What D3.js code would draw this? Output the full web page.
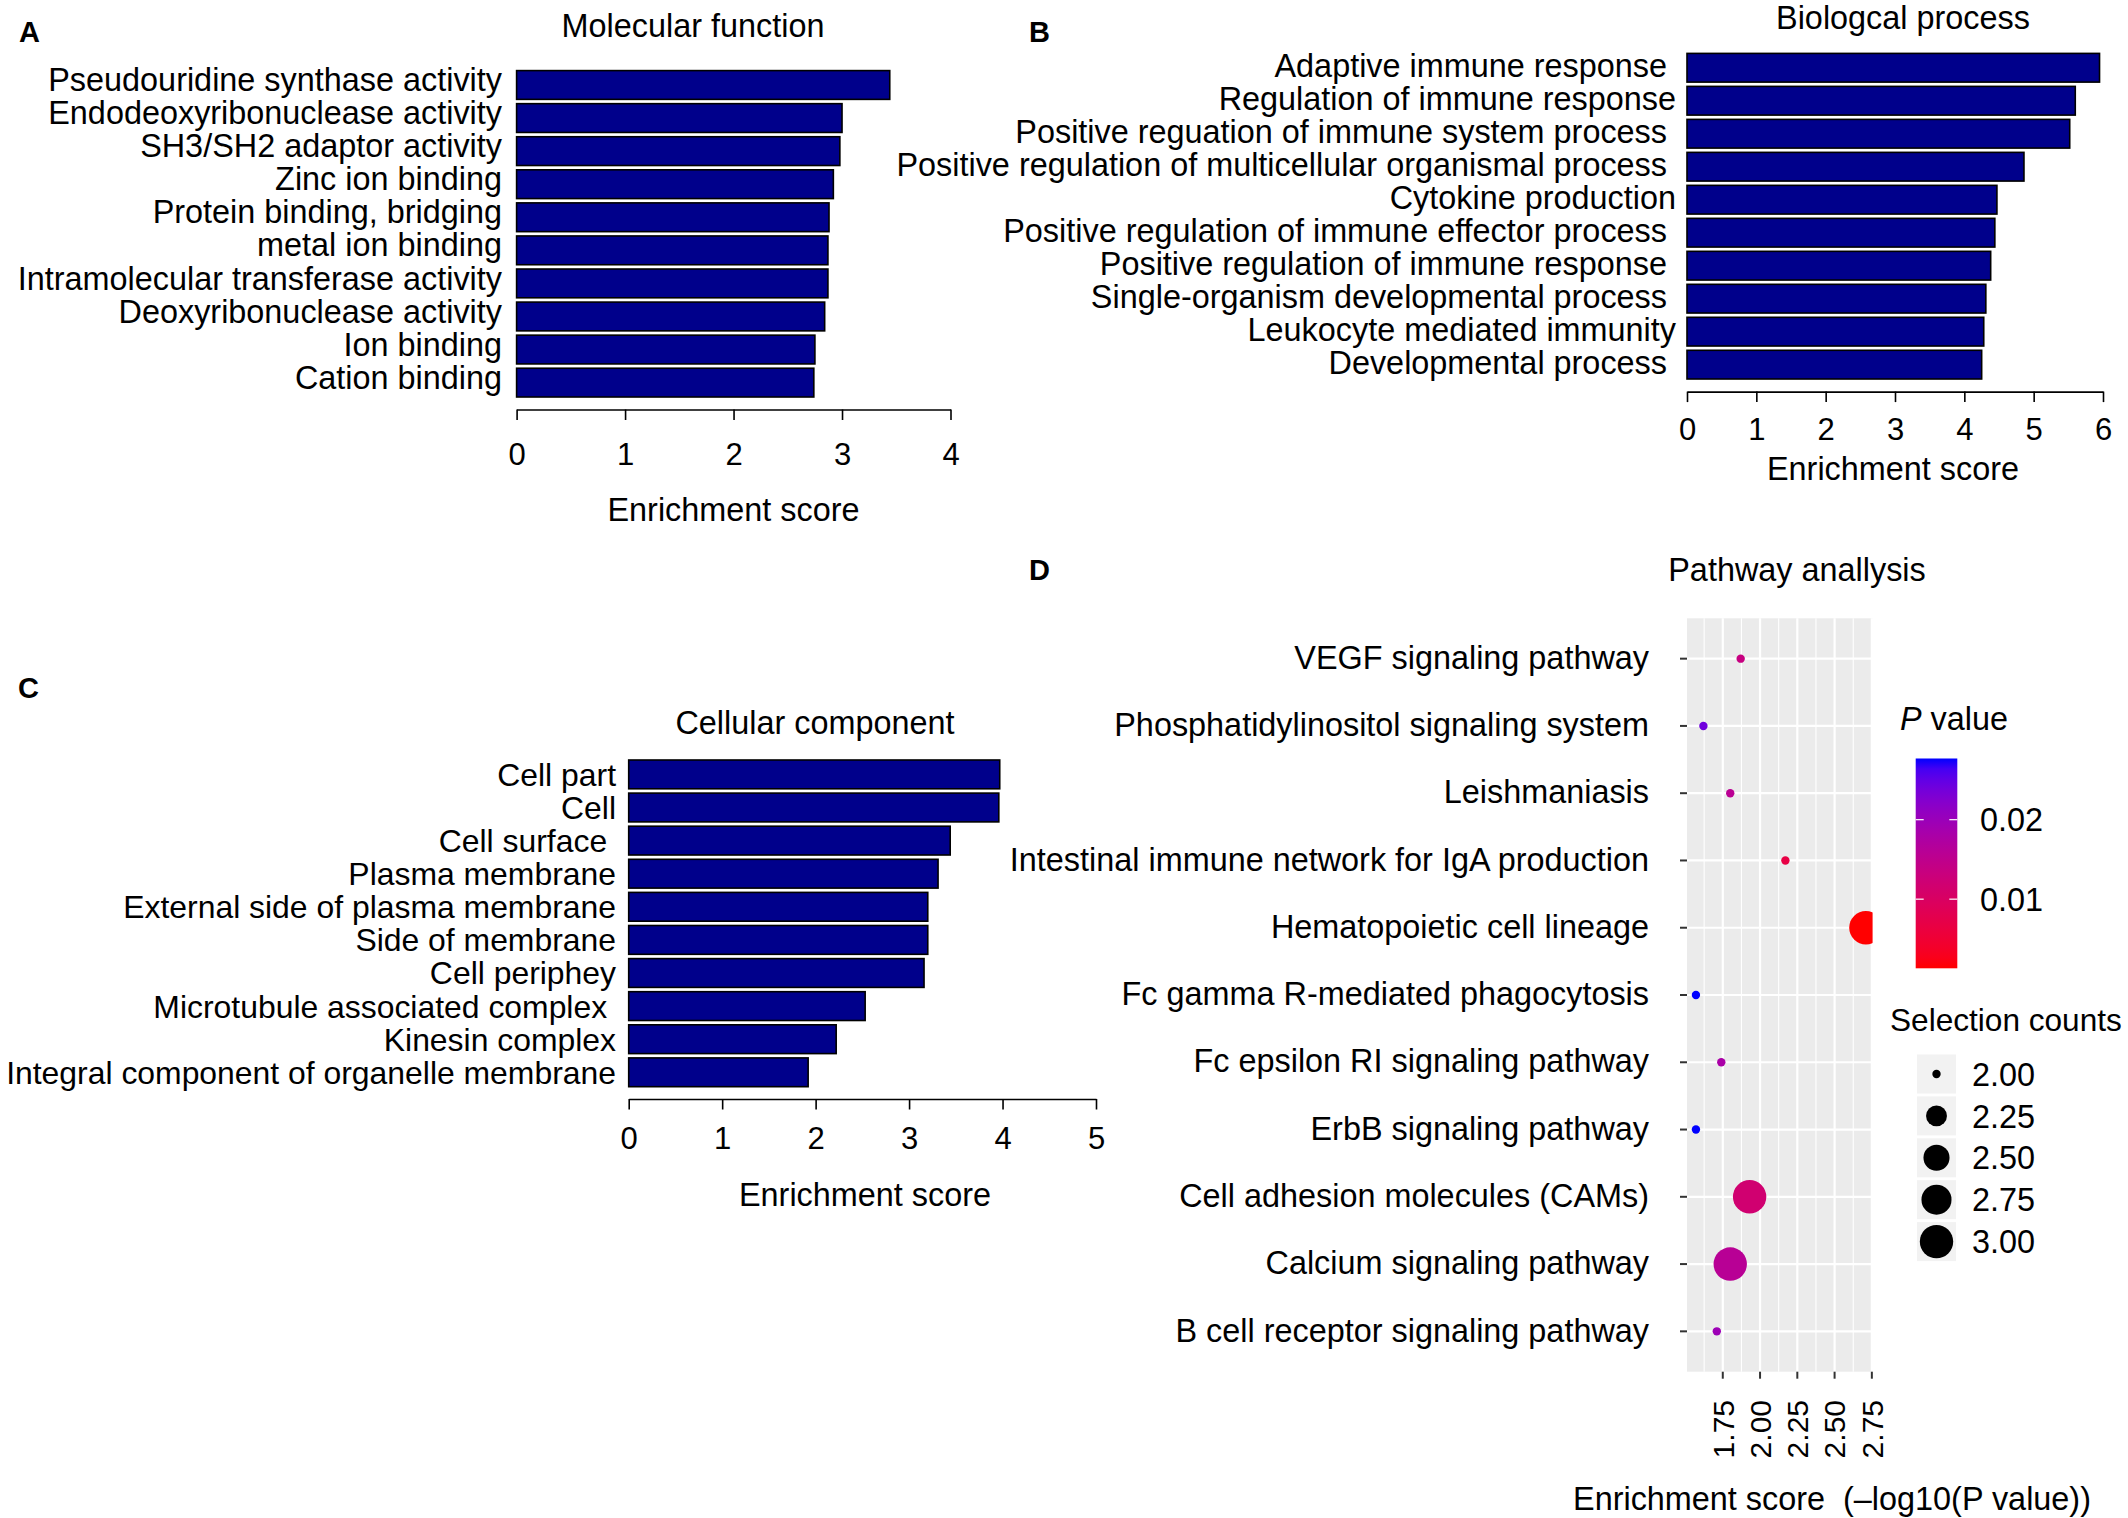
<!DOCTYPE html>
<html>
<head>
<meta charset="utf-8">
<script src="https://cdn.jsdelivr.net/npm/d3@7"></script>
<style>
  body { margin: 0; background: #fff; }
  svg text { font-family: "Liberation Sans", Arial, sans-serif; fill: #000; white-space: pre; }
</style>
</head>
<body>
<svg id="fig" width="2128" height="1518"></svg>
<script>
// DATA
const mfTerms = ["Pseudouridine synthase activity", "Endodeoxyribonuclease activity", "SH3/SH2 adaptor activity",
  "Zinc ion binding", "Protein binding, bridging", "metal ion binding", "Intramolecular transferase activity",
  "Deoxyribonuclease activity", "Ion binding", "Cation binding"];
const mfScores = [3.44, 3.00, 2.98, 2.92, 2.88, 2.87, 2.87, 2.84, 2.75, 2.74];

const bpTerms = ["Adaptive immune response ", "Regulation of immune response", "Positive reguation of immune system process ",
  "Positive regulation of multicellular organismal process ", "Cytokine production",
  "Positive regulation of immune effector process ", "Positive regulation of immune response ",
  "Single-organism developmental process ", "Leukocyte mediated immunity", "Developmental process "];
const bpScores = [5.95, 5.60, 5.52, 4.86, 4.47, 4.44, 4.38, 4.31, 4.28, 4.25];

const ccTerms = ["Cell part", "Cell", "Cell surface ", "Plasma membrane", "External side of plasma membrane",
  "Side of membrane", "Cell periphey", "Microtubule associated complex ", "Kinesin complex",
  "Integral component of organelle membrane"];
const ccScores = [3.97, 3.96, 3.44, 3.31, 3.20, 3.20, 3.16, 2.53, 2.22, 1.92];

const pathways = ["VEGF signaling pathway", "Phosphatidylinositol signaling system", "Leishmaniasis",
  "Intestinal immune network for IgA production", "Hematopoietic cell lineage", "Fc gamma R-mediated phagocytosis",
  "Fc epsilon RI signaling pathway", "ErbB signaling pathway", "Cell adhesion molecules (CAMs)",
  "Calcium signaling pathway", "B cell receptor signaling pathway"];
const pathScores = [1.87, 1.62, 1.80, 2.17, 2.71, 1.57, 1.74, 1.57, 1.93, 1.80, 1.71];
const pathPvalues = [0.0135, 0.0240, 0.0157, 0.0068, 0.0013, 0.0277, 0.0180, 0.0277, 0.0117, 0.0160, 0.0197];
const pathCounts = [2, 2, 2, 2, 3, 2, 2, 2, 3, 3, 2];

const xTicksD = [1.75, 2.00, 2.25, 2.50, 2.75];
const xMinorD = [1.625, 1.875, 2.125, 2.375, 2.625];
const pTicks = [0.01, 0.02];
const sizeBreaks = [2.00, 2.25, 2.50, 2.75, 3.00];

const svg = d3.select("#fig");
const FS = 32.4;

function txt(x, y, s, size, anchor) {
  return svg.append("text").attr("x", x).attr("y", y).attr("dy", "0.36em")
    .attr("font-size", size || FS).attr("text-anchor", anchor || "middle").text(s);
}

// panel letters
[["A", 19, 32], ["B", 1029, 32], ["C", 18, 688], ["D", 1029, 570]].forEach(p => {
  txt(p[1], p[2], p[0], 29, "start").attr("font-weight", "bold");
});

// BAR PANELS
function barPanel(o) {
  const g = svg.append("g");
  const x = d3.scaleLinear().domain([0, o.max]).range([o.x0, o.x1]);
  const y = d3.scaleBand().domain(o.terms).range([o.top, o.bottom]).paddingInner(0.13);

  g.selectAll("rect").data(o.terms).join("rect")
    .attr("x", x(0))
    .attr("y", d => y(d))
    .attr("width", (d, i) => x(o.scores[i]) - x(0))
    .attr("height", y.bandwidth())
    .attr("fill", "#00008B")
    .attr("stroke", "#000")
    .attr("stroke-width", 1.6);

  g.selectAll("text.lab").data(o.terms).join("text")
    .attr("class", "lab")
    .attr("x", o.labelX)
    .attr("y", d => y(d) + y.bandwidth() / 2 + o.labelShift)
    .attr("dy", "0.36em")
    .attr("text-anchor", "end")
    .attr("font-size", o.labelSize || FS)
    .text(d => d);

  const ax = g.append("g")
    .attr("transform", `translate(0,${o.axisY})`)
    .call(d3.axisBottom(x).ticks(o.max).tickSize(10.5).tickSizeOuter(0).tickFormat(d3.format("d")));
  ax.selectAll("path, line").attr("stroke", "#000").attr("stroke-width", 1.6);
  ax.selectAll(".tick text")
    .attr("y", o.tickLabY - o.axisY).attr("dy", "0.36em")
    .attr("font-size", 31).attr("font-family", null).attr("fill", "#000");
  ax.attr("font-family", null).attr("font-size", null);

  txt(o.titleX, o.titleY, o.title);
  txt(o.xlabX, o.xlabY, "Enrichment score");
}

barPanel({ terms: mfTerms, scores: mfScores, max: 4, x0: 516.6, x1: 950.5, top: 70.6, bottom: 397,
  labelX: 502, labelShift: -5.5, axisY: 409.5, tickLabY: 454, title: "Molecular function", titleX: 693, titleY: 25,
  xlabX: 733.5, xlabY: 509 });

barPanel({ terms: bpTerms, scores: bpScores, max: 6, x0: 1687, x1: 2103, top: 53.4, bottom: 379,
  labelX: 1676, labelShift: -2.6, axisY: 391.6, tickLabY: 428.6, title: "Biologcal process", titleX: 1903, titleY: 17,
  xlabX: 1893, xlabY: 468 });

barPanel({ terms: ccTerms, scores: ccScores, max: 5, x0: 628.7, x1: 1096, top: 760, bottom: 1086.7,
  labelX: 616, labelShift: 0, labelSize: 31.9, axisY: 1099, tickLabY: 1137.5, title: "Cellular component",
  titleX: 815, titleY: 722.5, xlabX: 865, xlabY: 1194 });

// PATHWAY DOT PLOT
const pL = 1687, pR = 1872.6, pT = 618.3, pB = 1371.7;
const xd = d3.scaleLinear().domain([1.51, 2.755]).range([pL, pR]);
const yd = d3.scalePoint().domain(pathways).range([pT, pB]).padding(0.6);
const pExt = d3.extent(pathPvalues);
const color = d3.scaleLinear().domain(pExt).range(["#FF0000", "#0000FF"]).interpolate(d3.interpolateLab);
const cExt = d3.extent(pathCounts);
const tScale = d3.scaleLinear().domain(cExt).range([0, 1]);
const rLin = d3.scaleLinear().domain([0, 1]).range([4.2, 16.7]);
const radius = v => rLin(Math.sqrt(tScale(v)));

const dp = svg.append("g");
dp.append("clipPath").attr("id", "pclip").append("rect")
  .attr("x", pL).attr("y", pT).attr("width", pR - pL).attr("height", pB - pT);
dp.append("rect").attr("x", pL).attr("y", pT).attr("width", pR - pL).attr("height", pB - pT).attr("fill", "#EBEBEB");

dp.selectAll("line.minor").data(xMinorD).join("line")
  .attr("x1", d => xd(d)).attr("x2", d => xd(d)).attr("y1", pT).attr("y2", pB)
  .attr("stroke", "#fff").attr("stroke-width", 1.1);
dp.selectAll("line.vmaj").data(xTicksD).join("line")
  .attr("x1", d => xd(d)).attr("x2", d => xd(d)).attr("y1", pT).attr("y2", pB)
  .attr("stroke", "#fff").attr("stroke-width", 2.2);
dp.selectAll("line.hmaj").data(pathways).join("line")
  .attr("x1", pL).attr("x2", pR).attr("y1", d => yd(d)).attr("y2", d => yd(d))
  .attr("stroke", "#fff").attr("stroke-width", 2.2);

dp.append("g").attr("clip-path", "url(#pclip)")
  .selectAll("circle").data(pathways).join("circle")
  .attr("cx", (d, i) => xd(pathScores[i]))
  .attr("cy", d => yd(d))
  .attr("r", (d, i) => radius(pathCounts[i]))
  .attr("fill", (d, i) => color(pathPvalues[i]));

// y ticks + labels
dp.selectAll("line.yt").data(pathways).join("line")
  .attr("x1", pL - 7).attr("x2", pL).attr("y1", d => yd(d)).attr("y2", d => yd(d))
  .attr("stroke", "#333").attr("stroke-width", 2);
dp.selectAll("text.yl").data(pathways).join("text")
  .attr("x", 1649).attr("y", d => yd(d) - 1.5).attr("dy", "0.36em")
  .attr("text-anchor", "end").attr("font-size", FS).text(d => d);

// x ticks + rotated labels
dp.selectAll("line.xt").data(xTicksD).join("line")
  .attr("x1", d => xd(d)).attr("x2", d => xd(d)).attr("y1", pB).attr("y2", pB + 7)
  .attr("stroke", "#333").attr("stroke-width", 2);
dp.selectAll("text.xl").data(xTicksD).join("text")
  .attr("transform", d => `translate(${xd(d)},1400) rotate(-90)`)
  .attr("dy", "0.36em").attr("text-anchor", "end").attr("font-size", 30)
  .text(d => d3.format(".2f")(d));

txt(1797, 569, "Pathway anallysis");
txt(1832, 1498, "Enrichment score  (\u2013log10(P value))");

// P value colour bar
const pt = svg.append("text").attr("x", 1900).attr("y", 718).attr("dy", "0.36em").attr("font-size", FS);
pt.append("tspan").attr("font-style", "italic").text("P");
pt.append("tspan").text(" value");

const cbX = 1915.7, cbW = 41.6, cbTop = 758.5, cbBot = 968.3;
const cy = d3.scaleLinear().domain(pExt).range([cbBot, cbTop]);
const grad = svg.append("defs").append("linearGradient").attr("id", "pgrad")
  .attr("x1", 0).attr("y1", 1).attr("x2", 0).attr("y2", 0);
d3.range(0, 1.0001, 0.05).forEach(t => {
  grad.append("stop").attr("offset", t).attr("stop-color", color(pExt[0] + t * (pExt[1] - pExt[0])));
});
svg.append("rect").attr("x", cbX).attr("y", cbTop).attr("width", cbW).attr("height", cbBot - cbTop)
  .attr("fill", "url(#pgrad)");
pTicks.forEach(v => {
  svg.append("line").attr("x1", cbX).attr("x2", cbX + 8).attr("y1", cy(v)).attr("y2", cy(v))
    .attr("stroke", "#fff").attr("stroke-width", 1.2);
  svg.append("line").attr("x1", cbX + cbW - 8).attr("x2", cbX + cbW).attr("y1", cy(v)).attr("y2", cy(v))
    .attr("stroke", "#fff").attr("stroke-width", 1.2);
  txt(1980, cy(v), d3.format(".2f")(v), FS, "start");
});

// Selection counts legend
txt(1890, 1019.6, "Selection counts", 31.6, "start");
sizeBreaks.forEach((v, i) => {
  const cyk = 1074 + i * 41.9;
  svg.append("rect").attr("x", 1917).attr("y", cyk - 19.5).attr("width", 39).attr("height", 39).attr("fill", "#F2F2F2");
  svg.append("circle").attr("cx", 1936.5).attr("cy", cyk).attr("r", radius(v)).attr("fill", "#000");
  txt(1972, cyk, d3.format(".2f")(v), FS, "start");
});
</script>
</body>
</html>
